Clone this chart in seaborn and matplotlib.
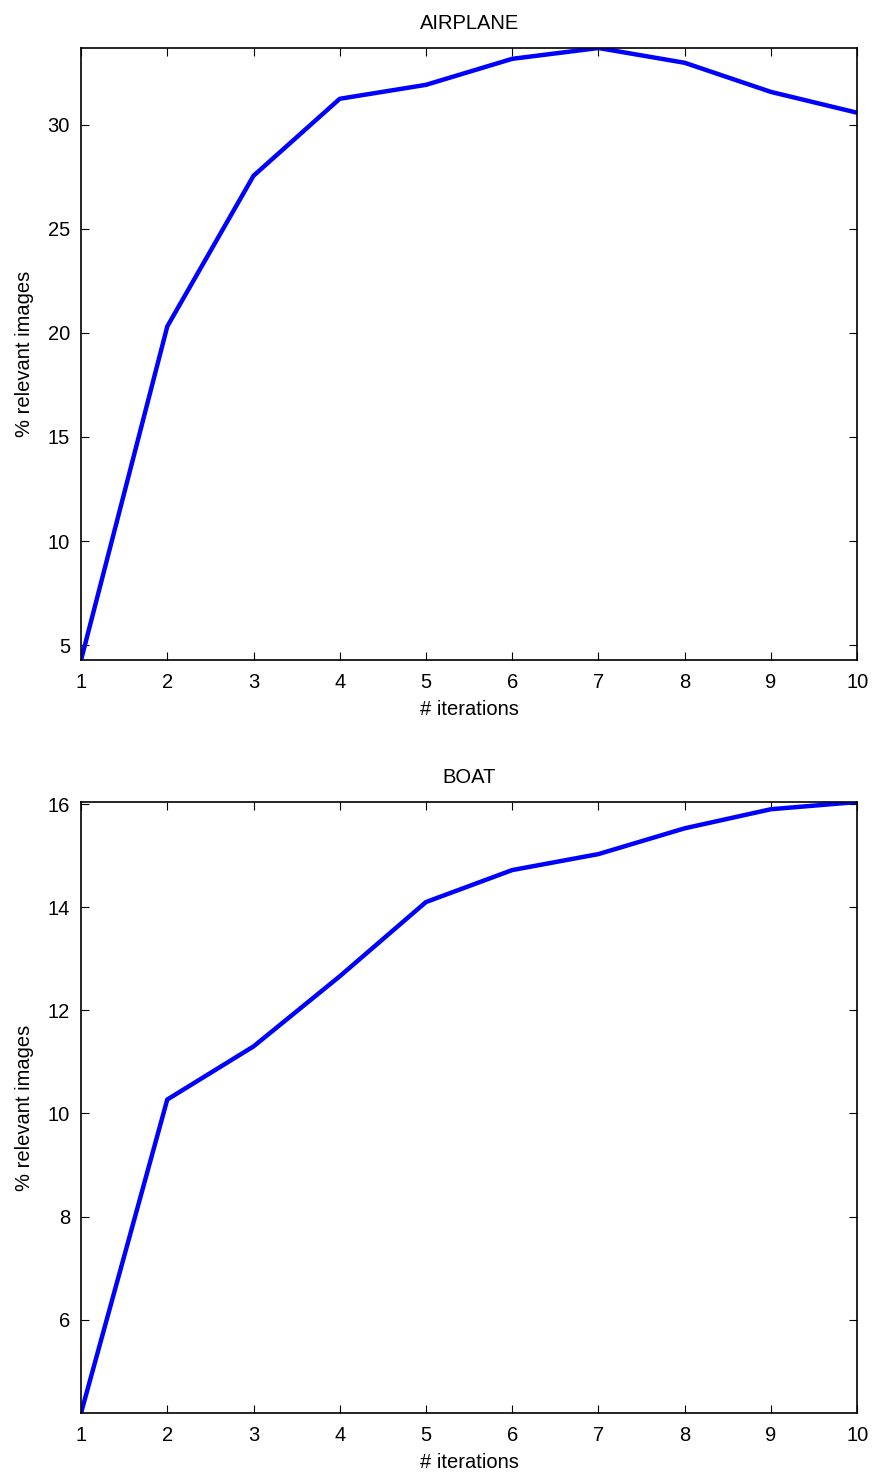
import matplotlib
matplotlib.use("Agg")
import matplotlib.pyplot as plt
import numpy as np
import pandas as pd
import seaborn as sns

sns.set_style("white")
plt.rcParams["font.family"] = ["Liberation Sans", "DejaVu Sans"]
plt.rcParams["text.color"] = "black"
plt.rcParams["axes.labelcolor"] = "black"
plt.rcParams["xtick.color"] = "black"
plt.rcParams["ytick.color"] = "black"

iterations = [1, 2, 3, 4, 5, 6, 7, 8, 9, 10]
airplane = [4.28, 20.31, 27.55, 31.25, 31.92, 33.17, 33.69, 32.98, 31.58, 30.58]
boat = [4.19, 10.27, 11.30, 12.66, 14.10, 14.72, 15.03, 15.53, 15.90, 16.04]
airplane_ticks = [5, 10, 15, 20, 25, 30]
boat_ticks = [6, 8, 10, 12, 14, 16]


def draw_panel(ax, title, values, yticks):
    df = pd.DataFrame({"iter": iterations, "pct": values})
    sns.lineplot(data=df, x="iter", y="pct", ax=ax, color="#0000ff", linewidth=3.2)
    ax.set_xlim(min(iterations), max(iterations))
    ax.set_ylim(min(values), max(values))
    ax.set_xticks(iterations)
    ax.set_yticks(yticks)
    ax.set_title(title, fontsize=14.5, pad=14, color="black")
    ax.set_xlabel("# iterations", fontsize=14.5, labelpad=6)
    ax.set_ylabel("% relevant images", fontsize=14.5, labelpad=10)
    ax.tick_params(direction="in", length=6, width=0.8, labelsize=14.5,
                   top=True, right=True, bottom=True, left=True)
    ax.tick_params(axis="x", pad=9)
    ax.tick_params(axis="y", pad=8)
    for side in ax.spines.values():
        side.set_visible(True)
        side.set_color("black")
        side.set_linewidth(1.2)


fig = plt.figure(figsize=(8.76, 14.77), dpi=100)
ax1 = fig.add_axes([0.0925, 0.5531, 0.886, 0.4144])
ax2 = fig.add_axes([0.0925, 0.0433, 0.886, 0.4137])

draw_panel(ax1, "AIRPLANE", airplane, airplane_ticks)
draw_panel(ax2, "BOAT", boat, boat_ticks)

fig.savefig("out.png", dpi=100)
plt.close(fig)
